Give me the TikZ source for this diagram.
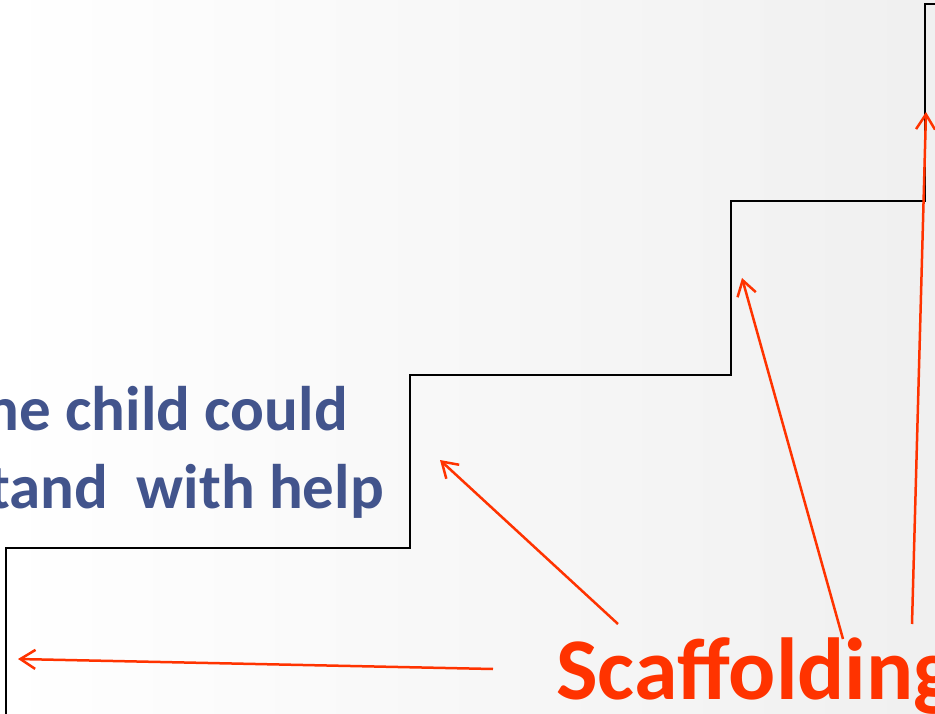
\documentclass[tikz,border=0pt]{standalone}
\usepackage{fontspec}
\setmainfont{Carlito}
\usetikzlibrary{arrows.meta}
\definecolor{scred}{HTML}{FF3300}
\definecolor{txtblue}{HTML}{42548C}
\begin{document}
\begin{tikzpicture}[x=1pt,y=-1pt,
  stair/.style={line width=2pt, line join=miter},
  sarrow/.style={scred, line width=2.5pt, -{Straight Barb[length=15pt,width=19pt,line width=2.5pt]}},
  bluetext/.style={font=\bfseries\fontsize{63}{63}\selectfont, text=txtblue, inner sep=0pt},
  redtext/.style={font=\bfseries\fontsize{88}{88}\selectfont, text=scred, inner sep=0pt}]
\useasboundingbox (0,0) rectangle (935,714);
\clip (0,0) rectangle (935,714);
\shade[left color=white, right color=black!6] (0,0) rectangle (935,714);
\draw[stair] (6,720) -- (6,548) -- (410,548) -- (410,375) -- (731,375) -- (731,201) -- (925,201) -- (925,4) -- (940,4);
\node[bluetext, anchor=base east] (t1) at (348,430) {the child could};
\node[bluetext, anchor=base east] (t2) at (384,508) {stand~~with help};
\node[redtext, anchor=base west] (sc) at (556,699) {Scaffolding};
\coordinate (s1) at (493,669); \coordinate (e1) at (18,659);
\coordinate (s2) at (618,624); \coordinate (e2) at (440,460);
\coordinate (s3) at (843,639); \coordinate (e3) at (742,278);
\coordinate (s4) at (912,624); \coordinate (e4) at (926,112);
\draw[sarrow] (s1) -- (e1);
\draw[sarrow] (s2) -- (e2);
\draw[sarrow] (s3) -- (e3);
\draw[sarrow] (s4) -- (e4);
\end{tikzpicture}
\end{document}
